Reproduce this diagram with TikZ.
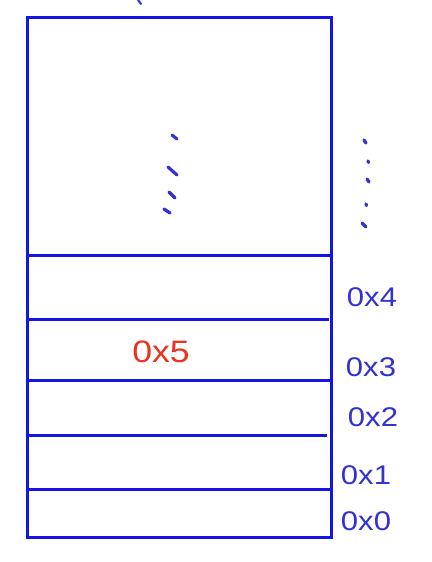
\documentclass[tikz,border=0pt]{standalone}
\usepackage{fontspec}
\setmainfont{Liberation Sans}
\definecolor{penblue}{RGB}{20,20,230}
\definecolor{inkblue}{RGB}{50,50,210}
\definecolor{penred}{RGB}{235,50,30}
\tikzset{
  border/.style={draw=penblue,line width=3pt},
  row/.style={draw=penblue,line width=3pt},
  addr/.style={text=inkblue,font=\fontsize{27}{27}\selectfont,inner sep=0pt,xscale=1.15},
  dot/.style={draw=inkblue,line width=3.2pt,line cap=round}
}
\begin{document}
\begin{tikzpicture}[x=1pt,y=-1pt]
\useasboundingbox (0,0) rectangle (431,562);
\fill[white] (0,0) rectangle (431,562);
% memory block
\draw[border] (27,17) rectangle (331,537);
\draw[row] (27,255) -- (331,255);
\draw[row] (27,319) -- (329,319);
\draw[row] (27,380) -- (331,380);
\draw[row] (27,435) -- (327,435);
\draw[row] (27,489) -- (331,489);
% tick at top
\draw[dot,line width=2pt] (138,0) -- (141,4);
% vertical dots inside
\draw[dot] (172,135) -- (177,139);
\draw[dot] (168,167) -- (177,175);
\draw[dot] (169,192) -- (175,198);
\draw[dot] (164,209) -- (170,213);
% vertical dots on right
\draw[dot] (364,140) -- (366,143);
\draw[dot] (368,161) -- (368.5,162.5);
\draw[dot] (367,179) -- (369,182);
\draw[dot] (366,204) -- (366.5,205.5);
\draw[dot] (362,223) -- (366,227);
% labels
\node[addr] (a4) at (372,297) {0x4};
\node[addr] (a3) at (371,367) {0x3};
\node[addr] (a2) at (373,417) {0x2};
\node[addr] (a1) at (366,475) {0x1};
\node[addr] (a0) at (366,521) {0x0};
\node[addr,text=penred,font=\fontsize{31}{31}\selectfont] (v5) at (161,352) {0x5};
\end{tikzpicture}
\end{document}
